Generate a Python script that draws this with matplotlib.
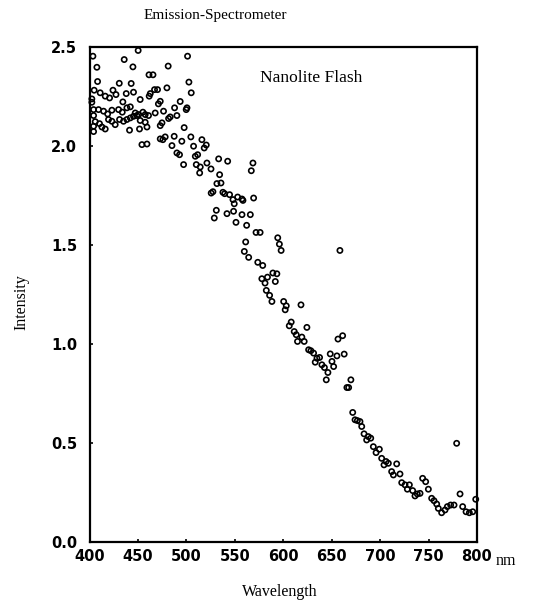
import matplotlib
matplotlib.use("Agg")
import matplotlib.pyplot as plt
import numpy as np

# values (nm, relative intensity)
wavelength = [
    403.5, 450.2, 435.8, 501.2, 407.6, 444.8, 481.2, 465.5, 461.4, 408.3,
    430.7, 443.0, 502.6, 505.0, 479.9, 470.2, 467.1, 462.7, 461.6, 445.4,
    437.9, 434.4, 427.3, 424.2, 420.7, 416.2, 411.0, 404.8, 402.4, 402.4,
    452.3, 473.0, 471.1, 493.6, 500.6, 499.8, 404.2, 409.3, 414.5, 418.7,
    423.1, 430.0, 433.8, 438.6, 442.1, 447.2, 450.7, 455.1, 457.5, 460.9,
    467.8, 476.4, 481.6, 487.8, 490.2, 404.2, 405.9, 404.2, 410.3, 412.8,
    416.2, 419.6, 423.1, 426.5, 431.0, 435.1, 438.6, 442.1, 445.4, 448.9,
    452.3, 457.5, 459.3, 451.6, 441.3, 474.8, 473.0, 483.3, 497.7, 404.2,
    454.1, 459.3, 473.0, 478.1, 475.7, 487.4, 485.1, 490.2, 492.9, 495.3,
    504.6, 507.4, 516.0, 520.5, 518.4, 509.2, 511.6, 497.1, 510.2, 514.3,
    521.2, 513.7, 525.4, 533.3, 542.6, 568.7, 567.0, 534.3, 531.5, 535.7,
    525.6, 527.4, 537.7, 539.5, 544.6, 548.1, 552.9, 557.4, 558.4, 569.4,
    549.4, 530.9, 528.8, 541.9, 548.7, 557.4, 566.0, 551.2, 562.2, 571.9,
    576.1, 594.3,
    596.0, 597.8, 561.2, 559.8, 564.3, 573.7, 578.8, 658.5, 577.9, 581.2,
    583.7, 589.3, 593.4, 591.8, 582.5, 585.9, 588.3, 600.4, 603.1, 602.0,
    618.3, 608.2, 606.2, 624.4, 611.3, 613.4, 619.2, 621.6, 614.7, 626.2,
    628.5, 631.3, 648.5, 655.4, 662.9, 656.5, 661.3, 634.8, 637.5, 633.0,
    639.9, 642.5, 646.1, 650.3, 652.0, 644.4, 669.8, 665.7, 667.5,
    671.7, 674.1, 676.5, 679.2, 681.0, 683.4, 686.1, 687.8, 690.3, 693.0,
    695.8, 699.2, 701.6, 704.0, 706.1, 708.5, 711.9, 713.7, 717.1, 720.5,
    722.3, 725.7, 730.2, 728.1, 733.6, 736.0, 738.4, 741.2, 743.9, 747.0,
    749.8, 753.2, 755.6, 758.4, 760.1, 763.5, 767.0, 769.4, 772.8, 776.3,
    779.0, 782.5, 785.2, 788.7, 792.1, 795.6, 798.7,
]
intensity = [
    2.456, 2.485, 2.439, 2.456, 2.400, 2.402, 2.406, 2.362, 2.362, 2.328,
    2.319, 2.318, 2.325, 2.271, 2.296, 2.287, 2.287, 2.267, 2.254, 2.274,
    2.267, 2.225, 2.262, 2.284, 2.245, 2.254, 2.271, 2.284, 2.240, 2.223,
    2.237, 2.228, 2.215, 2.227, 2.195, 2.186, 2.186, 2.186, 2.178, 2.164,
    2.183, 2.186, 2.173, 2.195, 2.200, 2.169, 2.161, 2.173, 2.161, 2.156,
    2.169, 2.178, 2.141, 2.195, 2.156, 2.156, 2.125, 2.102, 2.115, 2.098,
    2.088, 2.136, 2.127, 2.110, 2.136, 2.127, 2.136, 2.144, 2.152, 2.156,
    2.131, 2.122, 2.098, 2.088, 2.082, 2.119, 2.105, 2.149, 2.095, 2.075,
    2.009, 2.012, 2.038, 2.048, 2.034, 2.051, 2.004, 1.967, 1.958, 2.026,
    2.048, 2.001, 2.034, 2.007, 1.992, 1.950, 1.958, 1.908, 1.908, 1.896,
    1.916, 1.866, 1.886, 1.937, 1.925, 1.916, 1.877, 1.857, 1.812, 1.815,
    1.764, 1.771, 1.768, 1.761, 1.756, 1.731, 1.744, 1.734, 1.727, 1.739,
    1.710, 1.677, 1.638, 1.660, 1.672, 1.655, 1.655, 1.616, 1.601, 1.565,
    1.565, 1.538,
    1.506, 1.474, 1.517, 1.469, 1.439, 1.414, 1.398, 1.474, 1.331, 1.309,
    1.339, 1.360, 1.356, 1.317, 1.272, 1.247, 1.216, 1.216, 1.194, 1.174,
    1.199, 1.112, 1.093, 1.085, 1.064, 1.048, 1.036, 1.014, 1.014, 0.972,
    0.967, 0.955, 0.951, 0.941, 0.950, 1.026, 1.043, 0.929, 0.933, 0.909,
    0.896, 0.882, 0.857, 0.913, 0.887, 0.820, 0.820, 0.781, 0.781,
    0.655, 0.618, 0.614, 0.609, 0.584, 0.547, 0.516, 0.533, 0.525, 0.482,
    0.452, 0.469, 0.423, 0.390, 0.407, 0.398, 0.356, 0.339, 0.395, 0.344,
    0.300, 0.289, 0.289, 0.267, 0.260, 0.233, 0.243, 0.246, 0.322, 0.305,
    0.267, 0.221, 0.209, 0.192, 0.170, 0.148, 0.162, 0.179, 0.187, 0.187,
    0.499, 0.243, 0.179, 0.153, 0.148, 0.153, 0.216,
]

x_ticks = [400, 450, 500, 550, 600, 650, 700, 750, 800]
y_ticks = [0.0, 0.5, 1.0, 1.5, 2.0, 2.5]

serif = "Liberation Serif"

fig = plt.figure(figsize=(5.38, 6.05), dpi=100)
ax = fig.add_axes([0.1664, 0.1041, 0.7202, 0.8174])

ax.scatter(wavelength, intensity, s=14, facecolors="none", edgecolors="black",
           linewidths=1.2, clip_on=False, zorder=3)

ax.set_xlim(400, 800)
ax.set_ylim(0, 2.5)
ax.set_xticks(x_ticks)
ax.set_yticks(y_ticks)
ax.set_xticklabels([str(v) for v in x_ticks])
ax.set_yticklabels([f"{v:.1f}" for v in y_ticks])

for s in ax.spines.values():
    s.set_linewidth(1.6)
ax.tick_params(direction="in", length=2.5, width=1.2, labelsize=10.5)
ax.tick_params(axis="y", pad=9)
ax.tick_params(axis="x", pad=5)
for lab in ax.get_xticklabels() + ax.get_yticklabels():
    lab.set_fontweight("bold")

ax.text(0.44, 0.955, "Nanolite Flash", transform=ax.transAxes, fontsize=12.5,
        family=serif, va="top", ha="left")

fig.text(0.40, 0.974, "Emission-Spectrometer", fontsize=11, family=serif,
         ha="center", va="center")
fig.text(0.52, 0.021, "Wavelength", fontsize=11.5, family=serif,
         ha="center", va="center")
fig.text(0.040, 0.50, "Intensity", fontsize=11.5, family=serif,
         ha="center", va="center", rotation=90)
fig.text(0.922, 0.073, "nm", fontsize=11.5, family=serif,
         ha="left", va="center")

plt.savefig("out.png", dpi=100)
